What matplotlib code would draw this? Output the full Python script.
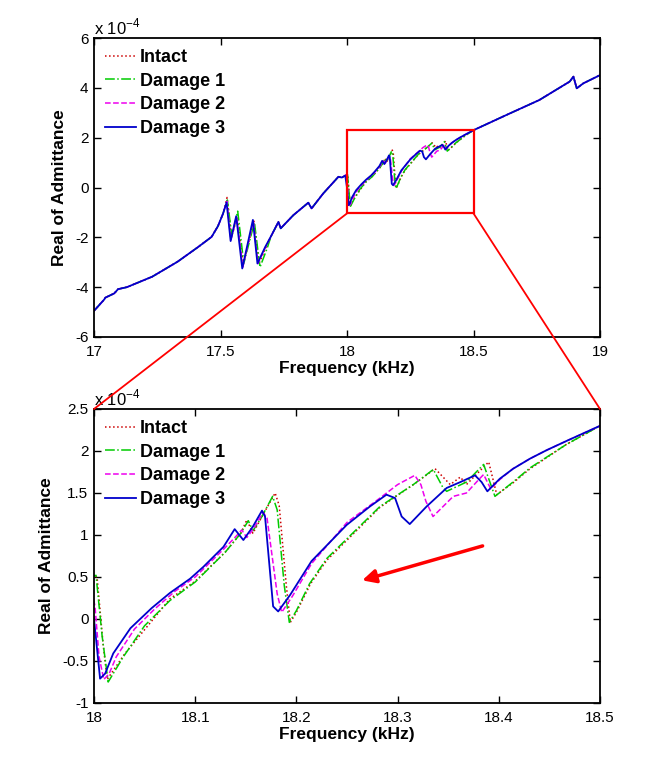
import matplotlib
matplotlib.use('Agg')
import matplotlib.pyplot as plt
from matplotlib.patches import Rectangle, ConnectionPatch

plt.rcParams['font.family'] = ['Liberation Sans', 'DejaVu Sans']
plt.rcParams['mathtext.fontset'] = 'custom'
plt.rcParams['mathtext.rm'] = 'Liberation Sans'

# ---------------- data (real admittance in units of 1e-4) ----------------
series_names = ['Intact', 'Damage 1', 'Damage 2', 'Damage 3']

# common low-frequency part (all states overlap)
low_f = [17.00, 17.04, 17.045, 17.08, 17.095, 17.13, 17.23, 17.33, 17.41, 17.465, 17.49, 17.51]
low_v = [-4.95, -4.50, -4.42, -4.25, -4.08, -4.00, -3.58, -2.98, -2.40, -1.98, -1.55, -1.05]

# resonance cluster 17.5 - 17.7 kHz
res_f_intact = [17.526, 17.543, 17.566, 17.590, 17.632, 17.652, 17.680]
res_v_intact = [-0.40, -2.00, -1.20, -3.10, -1.35, -3.05, -2.40]
res_f_d1 = [17.527, 17.545, 17.568, 17.592, 17.634, 17.656, 17.684]
res_v_d1 = [-0.50, -1.95, -0.95, -3.05, -1.40, -3.20, -2.45]
res_f_d2 = [17.525, 17.541, 17.564, 17.588, 17.630, 17.648, 17.678]
res_v_d2 = [-0.55, -2.10, -1.20, -3.20, -1.35, -3.05, -2.40]
res_f_d3 = [17.524, 17.540, 17.562, 17.586, 17.628, 17.646, 17.676]
res_v_d3 = [-0.60, -2.15, -1.15, -3.25, -1.30, -3.05, -2.40]

# common middle part
mid_f = [17.700, 17.729, 17.738, 17.788, 17.847, 17.860, 17.906, 17.966, 17.980]
mid_v = [-1.95, -1.38, -1.64, -1.11, -0.61, -0.84, -0.24, 0.43, 0.40]

# detailed part 18.0 - 18.5 kHz
det_f_intact = [17.998, 18.003, 18.009, 18.013, 18.030, 18.075, 18.100, 18.130, 18.145, 18.151,
                18.157, 18.166, 18.179, 18.183, 18.190, 18.194, 18.200, 18.214, 18.230, 18.2826,
                18.318, 18.337, 18.352, 18.362, 18.368, 18.390, 18.398, 18.414, 18.431, 18.467]
det_v_intact = [0.52, 0.50, -0.30, -0.72, -0.42, 0.24, 0.45, 0.80, 1.02, 1.18,
                1.02, 1.22, 1.50, 1.35, 0.40, -0.04, 0.08, 0.42, 0.70, 1.33,
                1.62, 1.79, 1.60, 1.69, 1.60, 1.87, 1.48, 1.62, 1.79, 2.08]
det_f_d1 = [17.997, 18.002, 18.008, 18.014, 18.029, 18.050, 18.075, 18.100, 18.130, 18.145,
            18.1525, 18.157, 18.165, 18.1765, 18.181, 18.188, 18.193, 18.200, 18.213, 18.230,
            18.2826, 18.3155, 18.3353, 18.345, 18.3485, 18.368, 18.385, 18.3962, 18.414, 18.431, 18.467]
det_v_d1 = [0.50, 0.52, -0.20, -0.75, -0.45, -0.08, 0.22, 0.44, 0.80, 1.02,
            1.17, 1.05, 1.20, 1.46, 1.30, 0.40, -0.04, 0.10, 0.42, 0.72,
            1.34, 1.60, 1.78, 1.56, 1.52, 1.63, 1.84, 1.46, 1.63, 1.80, 2.08]
det_f_d2 = [17.995, 18.001, 18.005, 18.0097, 18.015, 18.022, 18.040, 18.060, 18.080, 18.100,
            18.128, 18.140, 18.146, 18.151, 18.158, 18.167, 18.171, 18.181, 18.1855, 18.196,
            18.215, 18.250, 18.2826, 18.300, 18.317, 18.323, 18.328, 18.335, 18.355, 18.368,
            18.381, 18.385, 18.392, 18.401, 18.414, 18.431, 18.4473, 18.467]
det_v_d2 = [0.50, 0.15, -0.45, -0.72, -0.65, -0.45, -0.12, 0.12, 0.33, 0.50,
            0.83, 0.98, 1.06, 0.97, 1.08, 1.27, 1.20, 0.30, 0.08, 0.27,
            0.66, 1.15, 1.44, 1.60, 1.71, 1.60, 1.40, 1.22, 1.46, 1.50,
            1.67, 1.72, 1.55, 1.66, 1.79, 1.91, 2.01, 2.12]
det_f_d3 = [17.993, 18.000, 18.006, 18.011, 18.019, 18.036, 18.057, 18.075, 18.095, 18.108,
            18.128, 18.139, 18.1476, 18.157, 18.166, 18.169, 18.177, 18.182, 18.194, 18.215,
            18.2497, 18.2727, 18.289, 18.2975, 18.304, 18.312, 18.3287, 18.3485, 18.362, 18.3765,
            18.383, 18.3887, 18.401, 18.4143, 18.431, 18.4473, 18.467]
det_v_d3 = [0.48, 0.00, -0.71, -0.65, -0.41, -0.11, 0.13, 0.31, 0.48, 0.62,
            0.86, 1.07, 0.94, 1.10, 1.29, 1.22, 0.15, 0.09, 0.29, 0.69,
            1.12, 1.34, 1.48, 1.44, 1.22, 1.13, 1.34, 1.56, 1.63, 1.71,
            1.63, 1.52, 1.67, 1.79, 1.91, 2.01, 2.12]

# common high-frequency part
high_f = [18.500, 18.630, 18.760, 18.880, 18.895, 18.908, 18.934, 19.000]
high_v = [2.30, 2.91, 3.51, 4.25, 4.45, 3.98, 4.18, 4.51]

freq_intact = low_f + res_f_intact + mid_f + det_f_intact + high_f
val_intact = low_v + res_v_intact + mid_v + det_v_intact + high_v
freq_d1 = low_f + res_f_d1 + mid_f + det_f_d1 + high_f
val_d1 = low_v + res_v_d1 + mid_v + det_v_d1 + high_v
freq_d2 = low_f + res_f_d2 + mid_f + det_f_d2 + high_f
val_d2 = low_v + res_v_d2 + mid_v + det_v_d2 + high_v
freq_d3 = low_f + res_f_d3 + mid_f + det_f_d3 + high_f
val_d3 = low_v + res_v_d3 + mid_v + det_v_d3 + high_v

top_xticks = [17, 17.5, 18, 18.5, 19]
top_yticks = [-6, -4, -2, 0, 2, 4, 6]
bot_xticks = [18, 18.1, 18.2, 18.3, 18.4, 18.5]
bot_yticks = [-1, -0.5, 0, 0.5, 1, 1.5, 2, 2.5]

zoom_box = (18.0, 18.5, -1.04, 2.31)
arrow_tail = (18.384, 0.87)
arrow_head = (18.265, 0.46)

# ---------------- styling ----------------
styles = [
    dict(color='#cc0000', linestyle=':', lw=1.1),
    dict(color='#00cc00', linestyle='-.', lw=1.1),
    dict(color='#ee00ee', linestyle='--', lw=1.1),
    dict(color='#0000cc', linestyle='-', lw=1.3),
]
data = [(freq_intact, val_intact), (freq_d1, val_d1), (freq_d2, val_d2), (freq_d3, val_d3)]

fig = plt.figure(figsize=(6.65, 7.62), dpi=100)
W, H = 665, 762
ax1 = fig.add_axes([94 / W, (H - 337) / H, 506 / W, 299 / H])
ax2 = fig.add_axes([94 / W, (H - 703) / H, 506 / W, 294 / H])


def style_axes(ax, xt, yt, xl, yl, ytl):
    for (f, v), st, nm in zip(data, styles, series_names):
        ax.plot(f, v, label=nm, **st)
    ax.set_xlim(*xl)
    ax.set_ylim(*yl)
    ax.set_xticks(xt)
    ax.set_xticklabels([('%g' % t) for t in xt])
    ax.set_yticks(yt)
    ax.set_yticklabels(ytl)
    ax.tick_params(direction='in', top=True, right=True, labelsize=11, length=5, width=1)
    ax.tick_params(axis='x', pad=6)
    ax.tick_params(axis='y', pad=4)
    for s in ax.spines.values():
        s.set_linewidth(1.3)
    ax.set_xlabel('Frequency (kHz)', fontsize=12.5, fontweight='bold', labelpad=1)
    ax.set_ylabel('Real of Admittance', fontsize=12.5, fontweight='bold', labelpad=6)
    ax.text(0.0, 1.003, r'x 10$^{-4}$', transform=ax.transAxes, fontsize=12,
            ha='left', va='bottom')
    leg = ax.legend(loc='upper left', frameon=False, prop=dict(weight='bold', size=13),
                    handlelength=1.7, handletextpad=0.25, labelspacing=0.37,
                    borderaxespad=0.3, borderpad=0.3)
    return leg


style_axes(ax1, top_xticks, top_yticks, (17, 19), (-6, 6), ['%g' % t for t in top_yticks])
style_axes(ax2, bot_xticks, bot_yticks, (18, 18.5), (-1, 2.5), ['%g' % t for t in bot_yticks])

# zoom rectangle
x0, x1, y0, y1 = zoom_box
ax1.add_patch(Rectangle((x0, y0), x1 - x0, y1 - y0, fill=False, edgecolor='red', lw=1.6, zorder=5))

for xa, xb in [(x0, 18.0), (x1, 18.5)]:
    con = ConnectionPatch(xyA=(xa, y0), coordsA=ax1.transData,
                          xyB=(xb, 2.5), coordsB=ax2.transData,
                          color='red', lw=1.3)
    fig.add_artist(con)

ax2.annotate('', xy=arrow_head, xytext=arrow_tail,
             arrowprops=dict(arrowstyle='-|>', color='red', lw=2.5, mutation_scale=20,
                             shrinkA=0, shrinkB=0))

fig.savefig('out.png', dpi=100)
